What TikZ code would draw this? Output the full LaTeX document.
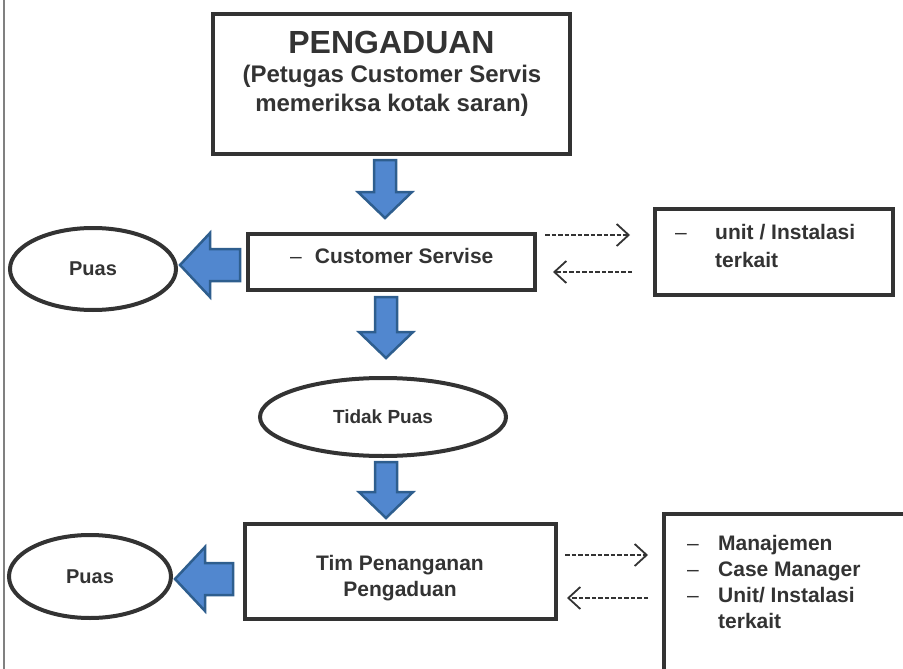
\documentclass[tikz,border=0pt]{standalone}
\usepackage{fontspec}
\setmainfont{Liberation Sans}
\usetikzlibrary{shapes.geometric, arrows.meta, calc}

\definecolor{ink}{HTML}{333333}
\definecolor{arrowblue}{HTML}{5187CF}
\definecolor{arrowedge}{HTML}{2E5E8E}

\tikzset{
  box/.style = {draw = ink, line width = 4pt, rectangle},
  oval/.style = {draw = ink, line width = 4pt, ellipse},
  txt/.style = {text = ink, inner sep = 0pt, font = \fontsize{21}{26}\selectfont\bfseries},
  blockarrow/.style = {fill = arrowblue, draw = arrowedge, line width = 2.5pt},
  dasharrow/.style = {draw = ink, line width = 1.8pt, dash pattern = on 4.5pt off 2pt,
    -{Straight Barb[length = 12pt, width = 22pt, line width = 1.8pt]}}
}

% big arrow downwards: #1 top of shaft, #2 tip
\newcommand{\downblock}[2]{%
  \draw[blockarrow] let \p1 = #1, \p2 = #2 in
    (\x1-11pt, \y1) -- (\x1+11pt, \y1) -- (\x1+11pt, \y2+26pt) -- (\x1+27pt, \y2+26pt)
    -- (\x1, \y2) -- (\x1-27pt, \y2+26pt) -- (\x1-11pt, \y2+26pt) -- cycle;}
% big arrow to the left: #1 end of shaft, #2 tip
\newcommand{\leftblock}[2]{%
  \draw[blockarrow] let \p1 = #1, \p2 = #2 in
    (\x1, \y1+16pt) -- (\x2+30pt, \y1+16pt) -- (\x2+30pt, \y1+32pt) -- (\x2, \y1)
    -- (\x2+30pt, \y1-32pt) -- (\x2+30pt, \y1-16pt) -- (\x1, \y1-16pt) -- cycle;}

\begin{document}
\begin{tikzpicture}[x = 1pt, y = -1pt]
\useasboundingbox (0, 0) rectangle (903, 669);
\clip (0, 0) rectangle (903, 669);
\draw[gray, line width = 1.5pt] (4, 0) -- (4, 669);

% top box
\node (pengaduan) [box, minimum width = 357pt, minimum height = 140pt] at (391.5, 84) {};
\node (judul) [txt, font = \fontsize{32}{36}\selectfont\bfseries, anchor = base] at (391.5, 54) {PENGADUAN};
\node (petugas) [txt, font = \fontsize{24}{29}\selectfont\bfseries, anchor = base] at (392, 83) {(Petugas Customer Servis};
\node (periksa) [txt, font = \fontsize{24}{29}\selectfont\bfseries, anchor = base] at (392, 112) {memeriksa kotak saran)};

% customer servise row
\node (cs) [box, minimum width = 287pt, minimum height = 56pt] at (391.5, 262) {};
\node (cstext) [txt, anchor = base west] at (290, 263) {{\mdseries –}\hspace{13pt}Customer Servise};
\node (puasa) [oval, minimum width = 166pt, minimum height = 82pt] at (93, 269) {};
\node (puasatext) [txt, font = \fontsize{20}{24}\selectfont\bfseries] at (puasa) {Puas};
\node (unit) [box, minimum width = 238pt, minimum height = 86pt] at (774, 252) {};
\node (unitdash) [txt, anchor = base west] at (675, 239) {\mdseries –};
\node (unita) [txt, anchor = base west] at (715, 239) {unit / Instalasi};
\node (unitb) [txt, anchor = base west] at (715, 267) {terkait};

\node (tidak) [oval, minimum width = 246pt, minimum height = 78pt] at (383, 417) {};
\node (tidaktext) [txt, font = \fontsize{19}{23}\selectfont\bfseries] at (tidak) {Tidak Puas};

% tim penanganan row
\node (tim) [box, minimum width = 311pt, minimum height = 95pt] at (400.5, 571.5) {};
\node (tima) [txt, anchor = base] at (400, 570) {Tim Penanganan};
\node (timb) [txt, anchor = base] at (400, 596) {Pengaduan};
\node (puasb) [oval, minimum width = 162pt, minimum height = 83pt] at (90, 576.5) {};
\node (puasbtext) [txt, font = \fontsize{20}{24}\selectfont\bfseries] at (puasb) {Puas};
\node (mgmt) [box, minimum width = 260pt, minimum height = 200pt, anchor = north west] at (662, 512) {};
\foreach \y/\item in {550/{Manajemen}, 576/{Case Manager}, 602/{Unit/ Instalasi}} {
  \node [txt, anchor = base west] at (687, \y) {\mdseries –};
  \node [txt, anchor = base west] at (718, \y) {\item};
}
\node (mgmtd) [txt, anchor = base west] at (718, 628) {terkait};

% big arrows
\downblock{($(pengaduan.south)+(-6.5, 4)$)}{($(cs.north)+(-6.5, -14)$)}
\downblock{($(cs.south)+(-5.5, 5)$)}{($(tidak.north)+(3, -18)$)}
\downblock{($(tidak.south)+(3, 4)$)}{($(tim.north)+(-14.5, -4)$)}
\leftblock{($(cs.west)+(-6, 3)$)}{($(puasa.east)+(2, -4)$)}
\leftblock{($(tim.west)+(-10, 7.5)$)}{($(puasb.east)+(2, 2.5)$)}

% dashed arrows
\draw[dasharrow] ($(cs.east)+(8, -27)$) -- ($(unit.west)+(-23, -17)$);
\draw[dasharrow] ($(unit.west)+(-21, 20)$) -- ($(cs.east)+(16, 10)$);
\draw[dasharrow] ($(tim.east)+(7, -16.5)$) -- ($(mgmt.north west)+(-14, 43)$);
\draw[dasharrow] ($(mgmt.north west)+(-14, 86)$) -- ($(tim.east)+(9, 26.5)$);
\end{tikzpicture}
\end{document}
